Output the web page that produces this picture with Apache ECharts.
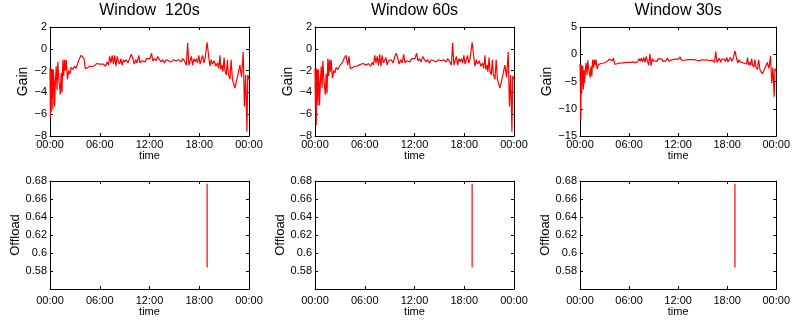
<!DOCTYPE html>
<html>
<head>
<meta charset="utf-8">
<script src="https://cdn.jsdelivr.net/npm/echarts@6/dist/echarts.min.js"></script>
<style>
html, body { margin: 0; padding: 0; background: #fff; }
#chart { width: 793px; height: 320px; }
</style>
</head>
<body>
<div id="chart"></div>
<script>
// time of day in hours, shared by the three gain traces
var hours = [
    0.00, 0.05, 0.10, 0.15, 0.20, 0.25, 0.30, 0.35, 0.40, 0.50,
    0.55, 0.65, 0.75, 0.85, 0.95, 1.05, 1.15, 1.25, 1.35, 1.45,
    1.55, 1.65, 1.75, 1.85, 1.95, 2.10, 2.25, 2.40, 2.55, 2.75,
    2.95, 3.15, 3.35, 3.55, 3.75, 3.95, 4.10, 4.25, 4.50, 4.75,
    5.00, 5.20, 5.40, 5.60, 5.80, 6.00, 6.20, 6.45, 6.70, 6.90,
    7.05, 7.20, 7.35, 7.50, 7.65, 7.80, 7.95, 8.10, 8.25, 8.40,
    8.55, 8.70, 8.85, 9.00, 9.20, 9.40, 9.60, 9.80, 10.00, 10.15,
    10.35, 10.50, 10.70, 10.85, 11.05, 11.25, 11.45, 11.65, 11.85, 12.05,
    12.25, 12.40, 12.60, 12.80, 13.00, 13.20, 13.40, 13.60, 13.80, 14.00,
    14.30, 14.60, 14.90, 15.20, 15.50, 15.80, 16.00, 16.20, 16.45, 16.60,
    16.75, 16.90, 17.05, 17.20, 17.35, 17.50, 17.65, 17.80, 17.95, 18.10,
    18.25, 18.40, 18.55, 18.70, 18.95, 19.15, 19.30, 19.45, 19.60, 19.80,
    20.00, 20.20, 20.35, 20.50, 20.60, 20.75, 20.85, 21.00, 21.10, 21.25,
    21.40, 21.50, 21.70, 21.85, 22.00, 22.30, 22.60, 22.90, 23.10, 23.30,
    23.45, 23.60, 23.75, 23.85, 24.00
];

var gain120 = [
    -1.8, -6.3, -1.9, -5.8, -1.8, -4.5, -2.0, -5.6, -1.9, -3.2,
    -5.3, -3.0, -1.6, -3.8, -1.2, -2.6, -3.4, -4.2, -2.2, -4.0,
    -1.0, -2.5, -1.0, -2.0, -1.0, -2.8, -2.0, -2.3, -1.7, -1.9,
    -1.6, -1.8, -1.3, -0.9, -0.6, -0.7, -0.9, -1.8, -1.75, -1.6,
    -1.65, -1.5, -1.55, -1.35, -1.5, -1.4, -1.55, -1.4, -1.6, -1.2,
    -1.5, -0.7, -1.3, -0.6, -1.4, -0.6, -1.6, -0.7, -1.2, -1.4,
    -0.9, -1.5, -1.0, -1.2, -1.0, -1.3, -0.9, -0.5, -0.9, -1.4,
    -1.0, -1.3, -0.6, -1.3, -1.1, -1.0, -1.2, -0.9, -1.0, -0.9,
    -0.4, -1.1, -0.9, -1.1, -0.7, -1.0, -1.2, -1.0, -1.3, -1.0,
    -1.1, -1.2, -1.0, -1.1, -1.0, -1.2, -0.9, -1.1, -1.5, 0.55,
    -1.5, -1.1, -0.7, -1.5, -0.9, -1.2, -0.9, -1.3, -0.6, -1.4,
    -1.0, -0.6, -1.3, -0.9, 0.6, -0.8, -1.6, -1.0, -1.4, -1.1,
    -1.6, -1.3, -1.8, -0.6, -1.9, -1.5, -2.1, -0.8, -2.0, -2.4,
    -1.0, -2.3, -2.8, -1.0, -2.8, -3.6, -2.6, -1.5, -2.6, -0.3,
    -5.3, -2.4, -7.6, -2.4, -2.8
];

var gain60 = [
    -1.8, -5.5, -1.9, -7.0, -1.8, -4.8, -2.0, -5.2, -1.9, -3.4,
    -5.2, -3.0, -1.6, -3.6, -1.1, -2.6, -3.5, -4.2, -2.3, -4.1,
    -0.9, -2.5, -1.0, -2.1, -1.0, -2.7, -2.0, -2.2, -1.7, -1.9,
    -1.6, -1.7, -1.2, -0.8, -0.6, -1.5, -0.7, -1.8, -1.75, -1.6,
    -1.6, -1.55, -1.45, -1.5, -1.35, -1.45, -1.5, -1.35, -1.6, -1.25,
    -1.5, -0.6, -1.3, -0.7, -1.5, -0.5, -1.6, -0.6, -1.3, -1.4,
    -0.8, -1.5, -1.1, -1.2, -1.0, -1.3, -0.8, -0.4, -0.9, -1.4,
    -1.0, -1.3, -0.5, -1.3, -1.1, -1.0, -1.2, -0.9, -1.0, -0.9,
    -0.4, -1.1, -0.9, -1.2, -0.7, -1.0, -1.2, -1.0, -1.3, -1.0,
    -1.1, -1.2, -1.0, -1.1, -1.0, -1.2, -0.9, -1.1, -1.5, 0.55,
    -1.5, -1.1, -0.7, -1.5, -0.9, -1.2, -0.9, -1.3, -0.6, -1.4,
    -1.0, -0.6, -1.3, -0.9, 0.6, -0.8, -1.6, -1.0, -1.4, -1.1,
    -1.6, -1.3, -1.8, -0.6, -1.9, -1.5, -2.1, -0.8, -2.0, -2.4,
    -1.0, -2.3, -2.8, -1.0, -2.8, -3.6, -2.6, -1.5, -2.6, -0.3,
    -5.3, -2.4, -7.6, -2.5, -2.8
];

var gain30 = [
    -1.8, -6.0, -12.0, -2.0, -7.2, -2.0, -5.5, -2.2, -6.5, -3.0,
    -5.3, -3.0, -1.6, -3.8, -1.1, -2.6, -3.5, -4.3, -2.2, -4.0,
    -1.0, -2.4, -1.0, -2.0, -1.0, -2.7, -1.9, -2.2, -1.7, -1.9,
    -1.6, -1.7, -1.3, -0.9, -0.6, -1.2, -0.7, -1.8, -1.75, -1.6,
    -1.65, -1.5, -1.55, -1.4, -1.5, -1.4, -1.5, -1.4, -1.55, -1.2,
    -1.4, -0.8, -1.3, -0.7, -1.4, -0.6, -1.5, -0.4, -1.3, -2.0,
    0.1, -2.1, -0.8, -1.2, -1.0, -1.3, -0.8, -0.5, -0.9, -1.3,
    -1.0, -1.2, -0.7, -1.3, -1.1, -1.0, -1.2, -0.9, -1.0, -0.9,
    -0.5, -1.1, -0.9, -1.1, -0.8, -1.0, -1.2, -1.0, -1.3, -1.0,
    -1.1, -1.2, -1.0, -1.1, -1.0, -1.2, -0.9, -1.1, -1.5, 0.5,
    -1.5, -1.1, -0.7, -1.5, -0.9, -1.2, -0.9, -1.3, -0.6, -1.4,
    -1.0, -0.6, -1.3, -0.9, 0.6, -0.8, -1.6, -1.0, -1.4, -1.1,
    -1.6, -1.3, -1.8, -0.6, -1.9, -1.5, -2.1, -0.8, -2.0, -2.4,
    -1.0, -2.3, -2.8, -1.0, -2.8, -3.6, -2.6, -1.5, -2.6, -0.3,
    -5.3, -2.5, -7.8, -2.6, -3.0
];

// the offload panels only show one short vertical trace
var offloadHours = [18.95, 18.95];
var offload120 = [0.584, 0.677];
var offload60 = [0.584, 0.677];
var offload30 = [0.584, 0.677];

var titles = ['Window  120s', 'Window 60s', 'Window 30s'];
var gainAxis = [[-8, 2, 2], [-8, 2, 2], [-15, 5, 5]];
var offloadAxis = [0.56, 0.68, 0.02];
var timeAxis = [0, 24, 6];

(function () {
    var gainData = [gain120, gain60, gain30];
    var offloadData = [offload120, offload60, offload30];

    var lefts = [50, 315, 580];
    var tops = [27, 181];
    var heights = [109, 108];
    var FONT = 'Liberation Sans, Arial, Helvetica, sans-serif';

    function pairs(xs, ys) {
        return xs.map(function (x, i) { return [x, ys[i]]; });
    }

    function timeLabel(v) {
        var h = Math.round(v) % 24;
        return (h < 10 ? '0' : '') + h + ':00';
    }

    function numLabel(v) {
        return String(v).replace('-', '\u2212');
    }

    function blackLine() {
        return { color: '#000', width: 1 };
    }

    var chart = echarts.init(document.getElementById('chart'));

    var grids = [], xAxes = [], yAxes = [], series = [];

    for (var c = 0; c < 3; c++) {
        for (var r = 0; r < 2; r++) {
            var g = grids.length;
            var isGain = (r === 0);
            var yr = isGain ? gainAxis[c] : offloadAxis;
            grids.push({ left: lefts[c], top: tops[r], width: 199, height: heights[r] });

            xAxes.push({
                type: 'value', gridIndex: g, position: 'bottom',
                min: timeAxis[0], max: timeAxis[1], interval: timeAxis[2],
                name: 'time', nameLocation: 'middle', nameGap: isGain ? 12 : 16,
                nameTextStyle: { color: '#000', fontSize: 11, fontFamily: FONT },
                axisLine: { onZero: false, lineStyle: blackLine() },
                axisTick: { inside: true, length: 3, lineStyle: blackLine() },
                axisLabel: { color: '#000', fontSize: 11, fontFamily: FONT, margin: isGain ? 3 : 6, formatter: timeLabel },
                splitLine: { show: false }
            });
            xAxes.push({
                type: 'value', gridIndex: g, position: 'top',
                min: timeAxis[0], max: timeAxis[1], interval: timeAxis[2],
                name: isGain ? titles[c] : '', nameLocation: 'middle', nameGap: 8,
                nameTextStyle: { color: '#000', fontSize: 16, fontFamily: FONT },
                axisLine: { onZero: false, lineStyle: blackLine() },
                axisTick: { inside: true, length: 3, lineStyle: blackLine() },
                axisLabel: { show: false },
                splitLine: { show: false }
            });
            yAxes.push({
                type: 'value', gridIndex: g, position: 'left',
                min: yr[0], max: yr[1], interval: yr[2],
                name: isGain ? 'Gain' : 'Offload', nameLocation: 'middle', nameGap: isGain ? 19 : 27,
                nameTextStyle: { color: '#000', fontSize: isGain ? 14 : 13, fontFamily: FONT },
                axisLine: { onZero: false, lineStyle: blackLine() },
                axisTick: { inside: true, length: 3, lineStyle: blackLine() },
                axisLabel: { color: '#000', fontSize: 11, fontFamily: FONT, margin: 3, showMinLabel: isGain, formatter: numLabel },
                splitLine: { show: false }
            });
            yAxes.push({
                type: 'value', gridIndex: g, position: 'right',
                min: yr[0], max: yr[1], interval: yr[2],
                axisLine: { onZero: false, lineStyle: blackLine() },
                axisTick: { inside: true, length: 3, lineStyle: blackLine() },
                axisLabel: { show: false },
                splitLine: { show: false }
            });

            series.push({
                type: 'line',
                xAxisIndex: 2 * g, yAxisIndex: 2 * g,
                data: isGain ? pairs(hours, gainData[c]) : pairs(offloadHours, offloadData[c]),
                showSymbol: false, symbol: 'none',
                lineStyle: { color: '#ff0000', width: 1.2 },
                itemStyle: { color: '#ff0000' }
            });
        }
    }

    chart.setOption({
        backgroundColor: '#fff',
        animation: false,
        grid: grids,
        xAxis: xAxes,
        yAxis: yAxes,
        series: series
    });
})();
</script>
</body>
</html>
